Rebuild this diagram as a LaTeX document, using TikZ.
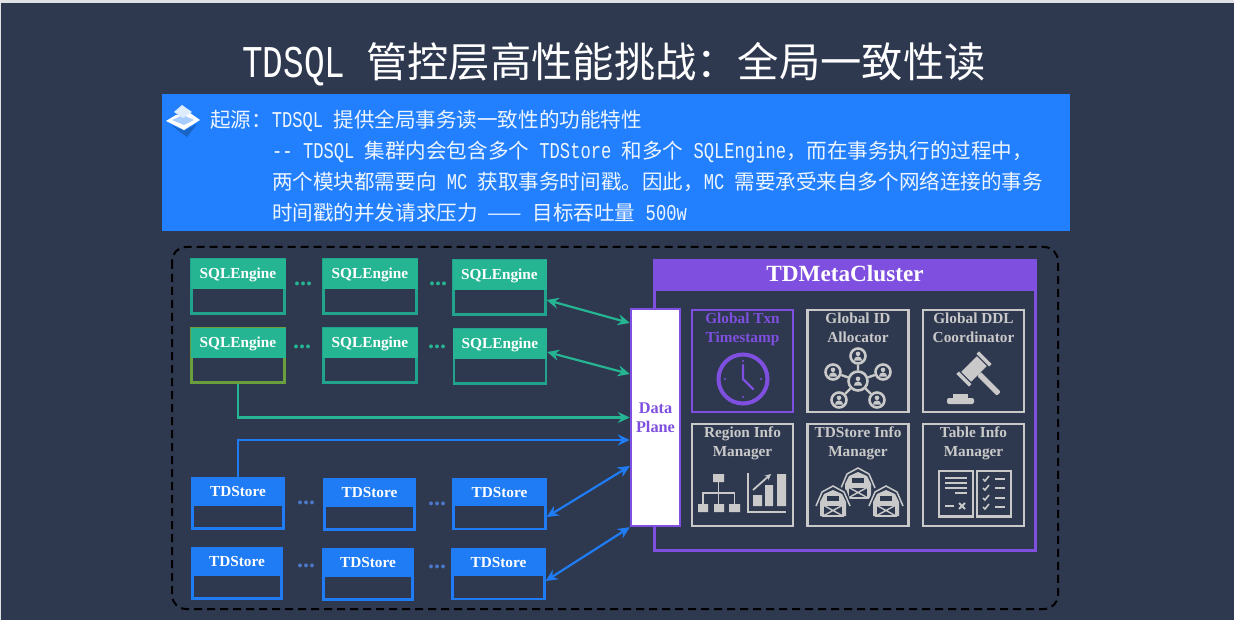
\documentclass[tikz,border=0pt]{standalone}
\usepackage{fontspec}
\setmainfont{Liberation Serif}
\newfontfamily\cjkfont{Noto Sans CJK SC}
\newfontfamily\latfont[Scale=1.1,FakeStretch=0.758]{Liberation Mono}
\newcommand{\lat}[1]{{\latfont #1}}
\usetikzlibrary{arrows.meta,positioning,fit,calc,shapes.misc,shapes.geometric}
\definecolor{bgcol}{HTML}{2E384F}
\definecolor{bannercol}{HTML}{2280FF}
\definecolor{tealcol}{HTML}{25B592}
\definecolor{tealline}{HTML}{20A48E}
\definecolor{olivecol}{HTML}{6B9E3C}
\definecolor{bluecol}{HTML}{1F7CF5}
\definecolor{dotblue}{HTML}{4C78C8}
\definecolor{purplecol}{HTML}{7F50E0}
\definecolor{graycol}{HTML}{C9C9C9}
\newcommand{\personicon}[1]{
  \fill[graycol] ([yshift=2.2pt]#1) circle (2.3);
  \fill[graycol] ([shift={(-4.2pt,-4.6pt)}]#1) arc[start angle=180,end angle=360,radius=4.2] -- cycle;
}
\tikzset{
  pics/barn/.style={code={
    \draw[bgcol,line width=3pt,fill=bgcol] (-18,-9) -- (-12,-25) -- (0,-31) -- (12,-25) -- (18,-9) -- (18,1) -- (-18,1) -- cycle;
    \draw[graycol,line width=1.5pt] (-17,-10) -- (-11,-24) -- (0,-30) -- (11,-24) -- (17,-10);
    \fill[graycol] (-13,0) -- (-13,-14) -- (-9,-22) -- (0,-26) -- (9,-22) -- (13,-14) -- (13,0) -- cycle;
    \fill[bgcol] (-6,-20) rectangle (6,-15);
    \draw[graycol,line width=1.2pt,fill=bgcol] (-10,-11) rectangle (10,0);
    \draw[graycol,line width=1.4pt] (-10,-11) -- (10,0) (-10,0) -- (10,-11);
  }}
}
\begin{document}
\begin{tikzpicture}[x=1pt,y=-1pt,>={Stealth[length=12pt,width=11pt,inset=4pt]}]
\tikzstyle{enginebody}=[draw=tealline, line width=2.2pt, fill=bgcol, minimum height=54pt, inner sep=0pt]
\tikzstyle{enginehead}=[fill=tealcol, anchor=north, minimum height=30pt, inner sep=0pt, text=white, text height=14pt, text depth=3.5pt, font=\bfseries\fontsize{15.3}{18}\selectfont]
\tikzstyle{storebody}=[draw=bluecol, line width=2.2pt, fill=bgcol, minimum height=50pt, inner sep=0pt]
\tikzstyle{storehead}=[fill=bluecol, anchor=north, minimum height=28pt, inner sep=0pt, text=white, font=\bfseries\fontsize{15.3}{18}\selectfont]
\tikzstyle{tealdots}=[text=tealcol, inner sep=0pt, font=\bfseries\fontsize{24}{24}\selectfont]
\tikzstyle{bluedots}=[text=dotblue, inner sep=0pt, font=\bfseries\fontsize{24}{24}\selectfont]
\tikzstyle{infobox}=[draw=graycol, line width=2.2pt, minimum width=101pt, minimum height=102pt, inner sep=0pt]
\tikzstyle{infotext}=[anchor=north, align=center, inner sep=0pt, text=graycol, font=\bfseries\fontsize{15.3}{18.6}\selectfont]
\tikzstyle{bannerline}=[anchor=base west, inner sep=0pt, text=white!92!bannercol, font=\cjkfont\fontsize{20.55}{24}\selectfont]
\tikzstyle{tealarrow}=[<->, tealcol, line width=2.2pt]
\tikzstyle{bluearrow}=[<->, bluecol, line width=2.2pt]
\tikzstyle{hubnode}=[circle, draw=graycol, fill=bgcol, line width=2.6pt, minimum size=15pt, inner sep=0pt]
\useasboundingbox (0,0) rectangle (1234,620);
\fill[white!85!bgcol] (0,0) rectangle (1234,620);
\fill[bgcol] (1,3) rectangle (1234,620);

% title and banner
\node[inner sep=0pt, text=white, font=\cjkfont\fontsize{41.3}{46}\selectfont] (title) at (614,64) {\lat{TDSQL }管控层高性能挑战：全局一致性读};
\node[fill=bannercol, minimum width=908pt, minimum height=137pt, inner sep=0pt] (banner) at (616,162.5) {};
\fill[bluecol!80!black] (171,125) -- (184,131) -- (197,124) -- (187,137) -- cycle;
\fill[white] (166,121) -- (176,115) -- (190,113) -- (200,120) -- (184,130) -- cycle;
\fill[white!60!bannercol] (172,120) -- (183,115) -- (194,120) -- (184,125) -- cycle;
\fill[white!85!bannercol] (174,112) -- (182,105) -- (192,112) -- (183,118) -- cycle;
\node[bannerline] (line1) at (210,128) {起源：\lat{TDSQL }提供全局事务读一致性的功能特性};
\node[bannerline] (line2) at (272,159) {\lat{-- TDSQL }集群内会包含多个\lat{ TDStore }和多个\lat{ SQLEngine}，而在事务执行的过程中，};
\node[bannerline] (line3) at (272,190) {两个模块都需要向\lat{ MC }获取事务时间戳。因此，\lat{MC }需要承受来自多个网络连接的事务};
\node[bannerline] (line4) at (272,221) {时间戳的并发请求压力\lat{ }——\lat{ }目标吞吐量\lat{ 500w}};

% dashed frame
\draw[black, line width=2pt, dash pattern=on 8pt off 5pt, rounded corners=14pt] (172,247) rectangle (1058,609);

% sql engines
\node[enginebody, minimum width=93pt] (sql11) at (238,286.5) {};
\node[enginehead, minimum width=95pt] (head11) at (sql11.north) {SQLEngine};
\node[enginebody, minimum width=93pt] (sql12) at (370,286.5) {};
\node[enginehead, minimum width=95pt] (head12) at (sql12.north) {SQLEngine};
\node[enginebody, minimum width=92pt] (sql13) at (499.5,287.5) {};
\node[enginehead, minimum width=94pt] (head13) at (sql13.north) {SQLEngine};
\node[enginebody, minimum width=93pt, draw=olivecol] (sql21) at (238,355.5) {};
\node[enginehead, minimum width=95pt] (head21) at (sql21.north) {SQLEngine};
\node[enginebody, minimum width=93pt] (sql22) at (370,355.5) {};
\node[enginehead, minimum width=95pt] (head22) at (sql22.north) {SQLEngine};
\node[enginebody, minimum width=92pt] (sql23) at (500,356.5) {};
\node[enginehead, minimum width=94pt] (head23) at (sql23.north) {SQLEngine};
\node[tealdots] (dots11) at (303,283.5) {...};
\node[tealdots] (dots12) at (438,283.5) {...};
\node[tealdots] (dots21) at (302,346.5) {...};
\node[tealdots] (dots22) at (437,346.5) {...};

% td stores
\node[storebody, minimum width=91pt] (store11) at (238,503.5) {};
\node[storehead, minimum width=93pt] (shead11) at (store11.north) {TDStore};
\node[storebody, minimum width=90pt] (store12) at (369.5,504.5) {};
\node[storehead, minimum width=92pt] (shead12) at (store12.north) {TDStore};
\node[storebody, minimum width=92pt] (store13) at (499.5,504) {};
\node[storehead, minimum width=94pt] (shead13) at (store13.north) {TDStore};
\node[storebody, minimum width=89pt] (store21) at (237,573.5) {};
\node[storehead, minimum width=91pt] (shead21) at (store21.north) {TDStore};
\node[storebody, minimum width=89pt] (store22) at (368,574.5) {};
\node[storehead, minimum width=91pt] (shead22) at (store22.north) {TDStore};
\node[storebody, minimum width=92pt] (store23) at (498.5,574) {};
\node[storehead, minimum width=94pt] (shead23) at (store23.north) {TDStore};
\node[bluedots] (dots31) at (306,502.5) {...};
\node[bluedots] (dots32) at (437,503.5) {...};
\node[bluedots] (dots41) at (306,565.5) {...};
\node[bluedots] (dots42) at (437,566.5) {...};

% meta cluster
\node[draw=purplecol, line width=2.4pt, minimum width=381pt, minimum height=261pt, inner sep=0pt] (cluster) at (845,420) {};
\node[fill=purplecol, minimum width=384pt, minimum height=30pt, inner sep=0pt, text=white, text height=16pt, text depth=1pt, font=\bfseries\fontsize{23.2}{26}\selectfont] (clustertitle) at (845,274) {TDMetaCluster};
\node[draw=purplecol, fill=white, line width=2.4pt, minimum width=49pt, minimum height=217pt, inner sep=0pt, align=center, text=purplecol, font=\bfseries\fontsize{16.3}{19.5}\selectfont] (plane) at (655.5,417.5) {Data\\Plane};

% info boxes
\node[infobox, draw=purplecol] (txn) at (742.5,361) {};
\node[infotext, text=purplecol] (txntext) at ([yshift=-4pt]txn.north) {Global Txn\\Timestamp};
\node[infobox] (idalloc) at (858,361) {};
\node[infotext] (idalloctext) at ([yshift=-4pt]idalloc.north) {Global ID\\Allocator};
\node[infobox] (ddl) at (973.5,361) {};
\node[infotext] (ddltext) at ([yshift=-4pt]ddl.north) {Global DDL\\Coordinator};
\node[infobox] (region) at (742.5,475) {};
\node[infotext] (regiontext) at ([yshift=-4pt]region.north) {Region Info\\Manager};
\node[infobox] (storeinfo) at (858,475) {};
\node[infotext] (storeinfotext) at ([yshift=-4pt]storeinfo.north) {TDStore Info\\Manager};
\node[infobox] (tableinfo) at (973.5,475) {};
\node[infotext] (tableinfotext) at ([yshift=-4pt]tableinfo.north) {Table Info\\Manager};

% clock icon
\node[circle, draw=purplecol, line width=4pt, minimum size=49pt, inner sep=0pt] (clock) at (743,379) {};
\draw[purplecol, line width=2.4pt, line cap=round] (743,365) -- (clock.center) -- (753,389);
\fill[purplecol] (743,361) circle (1.2) (743,397) circle (1.2) (725,379) circle (1.2) (761,379) circle (1.2);

% network icon
\node[hubnode, minimum size=19pt] (hub) at (858,381) {};
\node[hubnode] (sat1) at (858,356) {};
\node[hubnode] (sat2) at (833,372) {};
\node[hubnode] (sat3) at (883,372) {};
\node[hubnode] (sat4) at (839,400) {};
\node[hubnode] (sat5) at (877,400) {};
\draw[graycol, line width=2.4pt] (hub) -- (sat1) (hub) -- (sat2) (hub) -- (sat3) (hub) -- (sat4) (hub) -- (sat5);
\personicon{hub}
\personicon{sat1}
\personicon{sat2}
\personicon{sat3}
\personicon{sat4}
\personicon{sat5}

% gavel icon
\begin{scope}[shift={(974,369)}, rotate=-45]
\fill[graycol] (-7,-11) rectangle (7,11);
\fill[graycol] (-9,-16) rectangle (9,-12.5);
\fill[graycol] (-9,12.5) rectangle (9,16);
\fill[graycol, rounded corners=1pt] (7,-2.7) rectangle (35,2.7);
\end{scope}
\fill[graycol, rounded corners=2pt] (947,398) rectangle (974,404);
\fill[graycol] (953,394) rectangle (968,398);

% org chart and bars
\fill[graycol] (713,474) rectangle (724,482) (698,504) rectangle (708,512) (714,504) rectangle (724,512) (729,504) rectangle (740,512);
\draw[graycol, line width=1.7pt] (718.5,482) -- (718.5,504) (703,504) -- (703,493) -- (734.5,493) -- (734.5,504);
\draw[graycol, line width=2.6pt] (748,473) -- (748,512) -- (786,512);
\fill[graycol] (753,495) rectangle (762,506) (765,485) rectangle (773,506) (777,474) rectangle (786,506);
\draw[graycol, line width=1.8pt, -{Stealth[length=6pt,width=6pt]}] (753,490) -- (771,474);

% barns
\pic at (858,498) {barn};
\pic at (833,516) {barn};
\pic at (886,516) {barn};

% documents
\draw[graycol, line width=2.8pt] (939,471) rectangle (973,516.5) (977,471) rectangle (1011,516.5);
\draw[graycol, line width=2pt] (945,478) -- (967,478) (945,483) -- (967,483) (945,488) -- (967,488) (955,493) -- (967,493) (945,506) -- (954,506);
\draw[graycol, line width=1.8pt] (959,503) -- (965,509) (965,503) -- (959,509);
\draw[graycol, line width=1.6pt] (983,479) -- (985,481) -- (989,476) (983,488) -- (985,490) -- (989,485) (983,498) -- (985,500) -- (989,495) (983,507) -- (985,509) -- (989,504);
\draw[graycol, line width=2pt] (995,479) -- (1005,479) (995,488) -- (1005,488) (995,498) -- (1005,498) (995,507) -- (1005,507);

% connectors
\draw[tealarrow] ([yshift=-12.5pt]sql13.east) -- ([yshift=94.5pt]plane.west);
\draw[tealarrow] ([yshift=4.5pt]sql23.east) -- ([yshift=43.5pt]plane.west);
\draw[->, tealcol, line width=2.2pt] (sql21.south) |- (plane.west);
\draw[->, bluecol, line width=2.2pt] (store11.north) |- ([yshift=-22.5pt]plane.west);
\draw[bluearrow] ([yshift=-13pt]store13.east) -- ([yshift=-48.5pt]plane.west);
\draw[bluearrow] ([yshift=-7pt]store23.east) -- (plane.south west);
\end{tikzpicture}
\end{document}
